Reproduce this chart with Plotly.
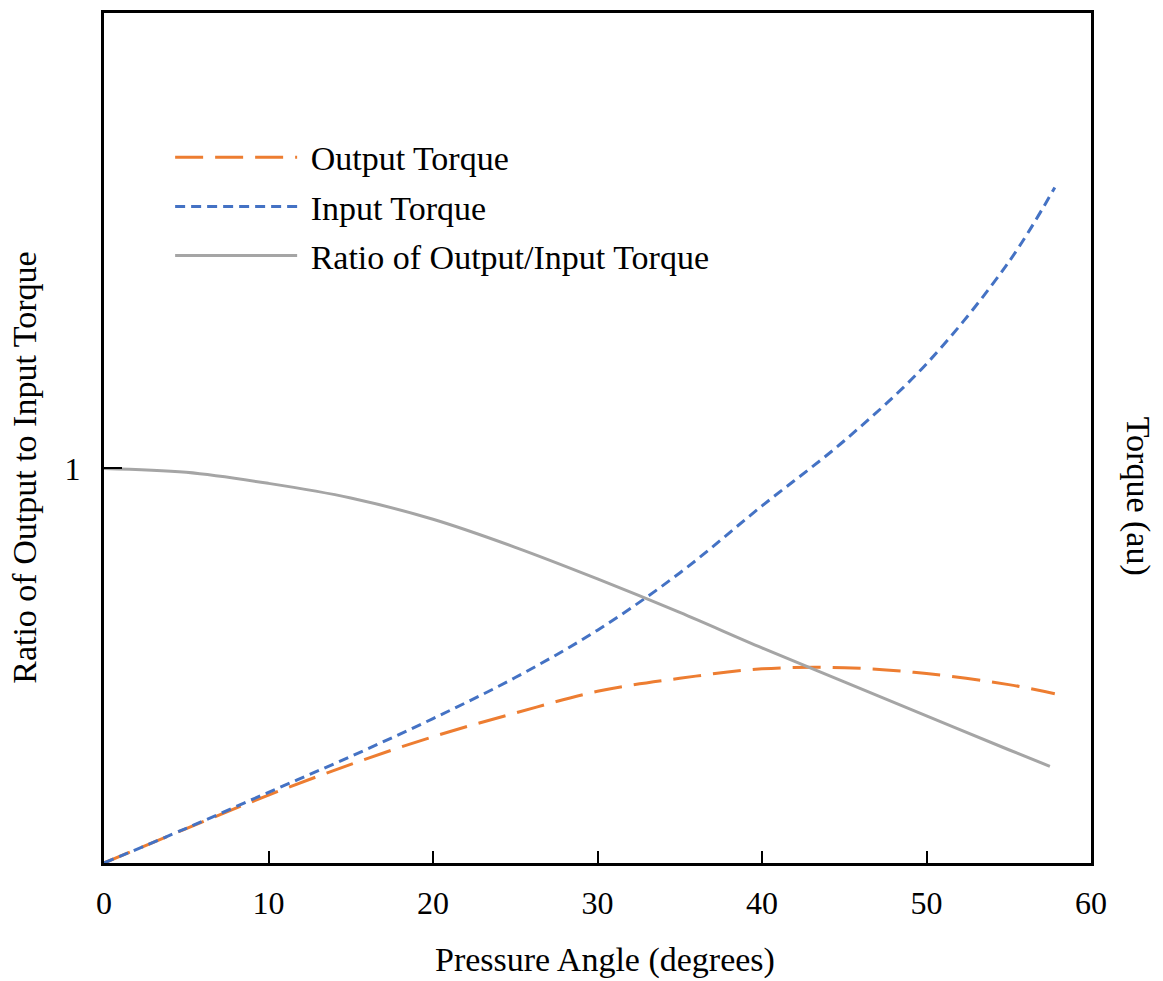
import plotly.graph_objects as go

angle = [0, 5, 10, 15, 20, 25, 30, 35, 40, 45, 50, 55, 57.8]
output_torque = [0, 0.087, 0.172, 0.25, 0.32, 0.38, 0.435, 0.468, 0.492, 0.495, 0.48, 0.452, 0.429]
input_torque = [0, 0.088, 0.179, 0.27, 0.366, 0.47, 0.59, 0.735, 0.905, 1.07, 1.265, 1.523, 1.712]
ratio_angle = [0, 5, 10, 15, 20, 25, 30, 35, 40, 45, 50, 55, 57.5]
ratio = [1.0, 0.99, 0.962, 0.925, 0.871, 0.80, 0.72, 0.635, 0.545, 0.459, 0.373, 0.287, 0.245]

series_names = ["Output Torque", "Input Torque", "Ratio of Output/Input Torque"]

x_ticks = [0, 10, 20, 30, 40, 50, 60]
y_ticks = [1]

FONT = "Liberation Serif, Times New Roman, serif"
FS = 34
PAD = "\u00a0"

fig = go.Figure()
fig.add_trace(go.Scatter(x=angle, y=output_torque, mode="lines", name=PAD + series_names[0],
                         legendgroup="a",
                         line=dict(color="#ED7D31", width=3, dash="28px,12px", shape="spline")))
fig.add_trace(go.Scatter(x=angle, y=input_torque, mode="lines", name=PAD + series_names[1],
                         legendgroup="b",
                         line=dict(color="#4472C4", width=3, dash="10px,6px", shape="spline")))
fig.add_trace(go.Scatter(x=ratio_angle, y=ratio, mode="lines", name=PAD + series_names[2],
                         legendgroup="c",
                         line=dict(color="#A5A5A5", width=3, shape="spline")))

fig.update_layout(
    width=1163, height=981,
    margin=dict(l=104, r=72, t=10, b=118),
    paper_bgcolor="white", plot_bgcolor="white",
    font=dict(family=FONT, size=FS, color="black"),
    showlegend=True,
    legend=dict(x=0.067, y=0.864, xanchor="left", yanchor="top",
                bgcolor="rgba(0,0,0,0)", itemwidth=122,
                font=dict(family=FONT, size=FS), tracegroupgap=2),
    xaxis=dict(range=[0, 60], tickvals=x_ticks, ticks="inside", ticklen=12, tickwidth=2,
               tickcolor="black", showline=True, linecolor="black", linewidth=3, mirror=True,
               showgrid=False, zeroline=False, ticklabelstandoff=10,
               tickfont=dict(family=FONT, size=32)),
    yaxis=dict(range=[0, 2.154], tickvals=y_ticks, ticks="inside", ticklen=18, tickwidth=2,
               tickcolor="black", showline=True, linecolor="black", linewidth=3, mirror=True,
               showgrid=False, zeroline=False, ticklabelstandoff=14,
               tickfont=dict(family=FONT, size=32)),
)

fig.add_annotation(text="Pressure Angle (degrees)", xref="paper", yref="paper",
                   x=0.5076, y=-0.114, xanchor="center", yanchor="middle", showarrow=False,
                   font=dict(family=FONT, size=FS))
fig.add_annotation(text="Ratio of Output to Input Torque", xref="paper", yref="paper",
                   x=-0.08, y=0.465, xanchor="center", yanchor="middle", textangle=-90,
                   showarrow=False, font=dict(family=FONT, size=FS))
fig.add_annotation(text="Torque (au)", xref="paper", yref="paper", x=1.0476, y=0.431,
                   xanchor="center", yanchor="middle", textangle=90, showarrow=False,
                   font=dict(family=FONT, size=FS))

fig.write_html("out.html")
